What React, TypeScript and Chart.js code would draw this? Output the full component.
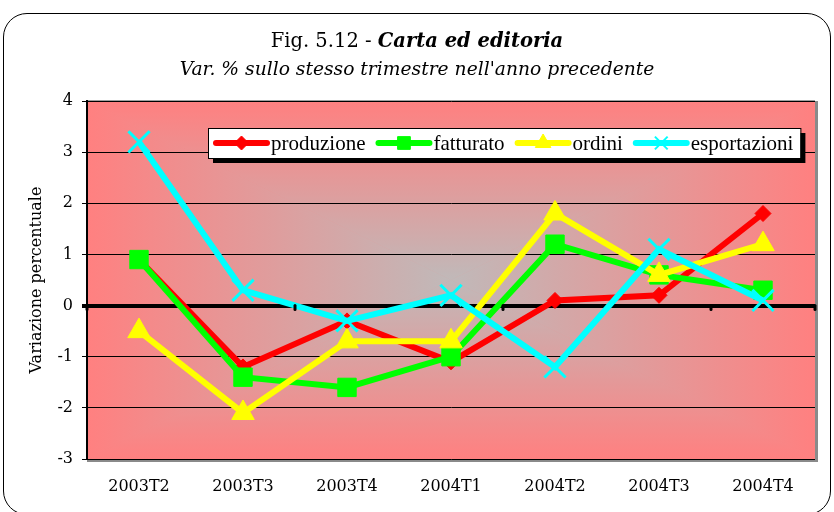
import React, { useEffect, useRef } from "react";
import { Chart, registerables } from "chart.js";

Chart.register(...registerables);

const categories = ["2003T2", "2003T3", "2003T4", "2004T1", "2004T2", "2004T3", "2004T4"];
const produzione = [0.9, -1.2, -0.3, -1.1, 0.1, 0.2, 1.8];
const fatturato = [0.9, -1.4, -1.6, -1.0, 1.2, 0.6, 0.3];
const ordini = [-0.5, -2.1, -0.7, -0.7, 1.8, 0.6, 1.2];
const esportazioni = [3.2, 0.3, -0.3, 0.2, -1.2, 1.1, 0.1];
const seriesNames = ["produzione", "fatturato", "ordini", "esportazioni"];
const yMin = -3;
const yMax = 4;

const FONT = "'Liberation Serif', 'Times New Roman', serif";
const GFONT = "'DejaVu Serif', Georgia, serif";

const bgPlugin = {
  id: "rectGradient",
  beforeDraw(chart: any) {
    const { ctx, chartArea: a } = chart;
    if (!a) return;
    const cx = (a.left + a.right) / 2;
    const cy = (a.top + a.bottom) / 2;
    const edge = "#FF8080";
    const center = "#C0B9B9";
    ctx.save();
    ctx.fillStyle = edge;
    ctx.fillRect(a.left, a.top, a.right - a.left, a.bottom - a.top);
    const tris = [
      [[a.left, a.top], [a.right, a.top], [cx, a.top]],
      [[a.right, a.top], [a.right, a.bottom], [a.right, cy]],
      [[a.right, a.bottom], [a.left, a.bottom], [cx, a.bottom]],
      [[a.left, a.bottom], [a.left, a.top], [a.left, cy]],
    ];
    for (const t of tris) {
      const g = ctx.createLinearGradient(cx, cy, t[2][0], t[2][1]);
      g.addColorStop(0, center);
      g.addColorStop(1, edge);
      ctx.fillStyle = g;
      ctx.beginPath();
      ctx.moveTo(cx, cy);
      ctx.lineTo(t[0][0], t[0][1]);
      ctx.lineTo(t[1][0], t[1][1]);
      ctx.closePath();
      ctx.fill();
      ctx.strokeStyle = g;
      ctx.lineWidth = 0.6;
      ctx.stroke();
    }
    ctx.fillStyle = "#8A8A8A";
    ctx.fillRect(a.right, a.top, 3, a.bottom - a.top + 3);
    ctx.fillRect(a.left, a.bottom, a.right - a.left + 3, 3);
    ctx.fillStyle = "#A0A0A0";
    ctx.fillRect(a.left, a.top - 1, a.right - a.left, 1.5);
    ctx.restore();
  },
  afterDatasetsDraw(chart: any) {
    const { ctx, chartArea: a, scales } = chart;
    const y0 = scales.y.getPixelForValue(0);
    const n = categories.length;
    const step = (a.right - a.left) / n;
    ctx.save();
    ctx.strokeStyle = "#000";
    ctx.lineWidth = 3;
    ctx.lineCap = "round";
    for (let i = 0; i <= n; i += 2) {
      const x = a.left + step * i;
      ctx.beginPath();
      ctx.moveTo(x, y0);
      ctx.lineTo(x, y0 + 4);
      ctx.stroke();
    }
    ctx.beginPath();
    ctx.moveTo(a.right, y0);
    ctx.lineTo(a.right, y0 + 4);
    ctx.stroke();
    ctx.restore();
  },
};

function drawMarker(ctx: CanvasRenderingContext2D, style: string, x: number, y: number, r: number) {
  ctx.beginPath();
  if (style === "rectRot") {
    ctx.moveTo(x - r, y);
    ctx.lineTo(x, y - r);
    ctx.lineTo(x + r, y);
    ctx.lineTo(x, y + r);
    ctx.closePath();
    ctx.fill();
    ctx.stroke();
  } else if (style === "rect") {
    const s = r * Math.SQRT1_2;
    ctx.rect(x - s, y - s, 2 * s, 2 * s);
    ctx.fill();
    ctx.stroke();
  } else if (style === "triangle") {
    ctx.moveTo(x, y - r);
    ctx.lineTo(x + r * 0.866, y + r * 0.5);
    ctx.lineTo(x - r * 0.866, y + r * 0.5);
    ctx.closePath();
    ctx.fill();
    ctx.stroke();
  } else {
    const s = r * Math.SQRT1_2;
    ctx.moveTo(x - s, y - s);
    ctx.lineTo(x + s, y + s);
    ctx.moveTo(x + s, y - s);
    ctx.lineTo(x - s, y + s);
    ctx.stroke();
  }
}

const legendPlugin = {
  id: "boxLegend",
  afterDraw(chart: any) {
    const { ctx } = chart;
    const datasets = chart.data.datasets;
    const left = 208;
    const top = 128;
    const h = 30;
    ctx.save();
    ctx.font = `21px ${FONT}`;
    const sampleW = 57;
    const gap = 10;
    let w = 6;
    const widths = datasets.map((d: any) => ctx.measureText(d.label).width);
    widths.forEach((tw: number) => (w += sampleW + 1 + tw + gap));
    w -= 4;
    ctx.fillStyle = "#000";
    ctx.fillRect(left + 5, top + 5, w, h);
    ctx.fillStyle = "#fff";
    ctx.fillRect(left, top, w, h);
    ctx.strokeStyle = "#000";
    ctx.lineWidth = 1;
    ctx.strokeRect(left + 0.5, top + 0.5, w, h);
    let x = left + 5;
    const cy = top + h / 2;
    datasets.forEach((d: any, i: number) => {
      ctx.strokeStyle = d.borderColor;
      ctx.lineWidth = 6;
      ctx.lineCap = "round";
      ctx.beginPath();
      ctx.moveTo(x + 3, cy);
      ctx.lineTo(x + sampleW - 3, cy);
      ctx.stroke();
      ctx.lineCap = "butt";
      const pStyle = d.pointStyle;
      const r = pStyle === "rectRot" ? 7 : 9;
      ctx.fillStyle = d.pointBackgroundColor;
      ctx.strokeStyle = d.pointBorderColor;
      ctx.lineWidth = pStyle === "crossRot" ? 2 : 1;
      drawMarker(ctx, pStyle, x + sampleW / 2, cy, r);
      ctx.fillStyle = "#000";
      ctx.textBaseline = "middle";
      ctx.textAlign = "left";
      ctx.fillText(d.label, x + sampleW + 1, cy + 1);
      x += sampleW + 1 + widths[i] + gap;
    });
    ctx.restore();
  },
};

export default function App() {
  const ref = useRef<HTMLCanvasElement>(null);
  useEffect(() => {
    document.body.style.margin = "0";
    const mk = (label: string, data: number[], color: string, pointStyle: string, radius: number, order: number, bw: number) => ({
      label,
      data,
      borderColor: color,
      backgroundColor: color,
      pointBackgroundColor: color,
      pointBorderColor: color,
      pointStyle,
      pointRadius: radius,
      pointBorderWidth: bw,
      borderWidth: 6,
      tension: 0,
      order,
    });
    const chart = new Chart(ref.current!, {
      type: "line",
      data: {
        labels: categories,
        datasets: [
          mk(seriesNames[0], produzione, "#FF0000", "rectRot", 8, 4, 1),
          mk(seriesNames[1], fatturato, "#00FF00", "rect", 13, 3, 1),
          mk(seriesNames[2], ordini, "#FFFF00", "triangle", 13, 2, 1),
          mk(seriesNames[3], esportazioni, "#00FFFF", "crossRot", 15, 1, 3),
        ],
      },
      options: {
        animation: false,
        responsive: false,
        layout: { padding: { left: 0, top: 101, right: 19, bottom: 0 } },
        plugins: {
          legend: { display: false },
          title: { display: false },
          tooltip: { enabled: false },
        },
        scales: {
          x: {
            type: "category",
            offset: true,
            grid: { display: false, drawTicks: false },
            border: { display: false },
            ticks: {
              color: "#000",
              font: { family: GFONT, size: 16 },
              padding: 18,
              maxRotation: 0,
            },
            afterFit(scale: any) {
              scale.height = 53;
            },
          },
          y: {
            min: yMin,
            max: yMax,
            ticks: {
              stepSize: 1,
              color: "#000",
              font: { family: GFONT, size: 16 },
              padding: 9,
              callback: (v: any) => String(v),
            },
            grid: {
              color: "#000",
              lineWidth: (c: any) => (c.tick && c.tick.value === 0 ? 4 : 1),
              tickLength: 5,
              tickColor: "#000",
              drawTicks: true,
            },
            border: { display: true, color: "#000", width: 2 },
            title: {
              display: true,
              text: "Variazione percentuale",
              color: "#000",
              font: { family: GFONT, size: 16 },
              padding: { top: 27, bottom: 0 },
            },
            afterFit(scale: any) {
              scale.width = 87;
            },
          },
        },
      },
      plugins: [bgPlugin, legendPlugin],
    } as any);
    return () => chart.destroy();
  }, []);

  return (
    <div style={{ position: "relative", width: 834, height: 512, background: "#fff", overflow: "hidden" }}>
      <canvas ref={ref} width={834} height={512} style={{ position: "absolute", left: 0, top: 0 }} />
      <div
        style={{
          position: "absolute",
          left: 3,
          top: 13,
          width: 826,
          height: 500,
          border: "1.5px solid #000",
          borderRadius: 24,
          pointerEvents: "none",
        }}
      />
      <div
        style={{
          position: "absolute",
          left: 0,
          width: 834,
          top: 29,
          textAlign: "center",
          fontFamily: GFONT,
          fontSize: 19.5,
          lineHeight: "24px",
          color: "#000",
        }}
      >
        Fig. 5.12 - <b><i>Carta ed editoria</i></b>
      </div>
      <div
        style={{
          position: "absolute",
          left: 0,
          width: 834,
          top: 57,
          textAlign: "center",
          fontFamily: GFONT,
          fontSize: 18.7,
          fontStyle: "italic",
          lineHeight: "24px",
          color: "#000",
        }}
      >
        Var. % sullo stesso trimestre nell'anno precedente
      </div>
    </div>
  );
}
